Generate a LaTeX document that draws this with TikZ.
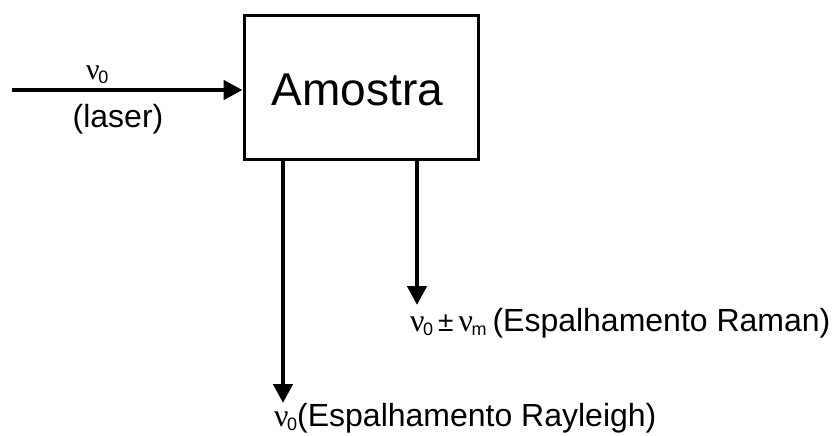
\documentclass[tikz,border=0pt]{standalone}
\usepackage{fontspec}
\setmainfont{Liberation Sans}
\newfontfamily\greekfont{Liberation Serif}
\usetikzlibrary{arrows.meta}
\newcommand{\nusym}[1]{{\greekfont ν}\kern-1.5pt\raisebox{-4pt}{\fontsize{18}{20}\selectfont #1}}
\tikzset{
  arr/.style={line width=4.5pt, -{Triangle[length=19pt,width=19pt]}},
  lbl/.style={inner sep=0pt, anchor=base west, font=\fontsize{32}{38}\selectfont},
  boxnode/.style={draw, line width=3pt, minimum width=234pt, minimum height=143pt, inner sep=0pt},
  boxtext/.style={inner sep=0pt, anchor=base, font=\fontsize{46}{54}\selectfont}
}
\begin{document}
\begin{tikzpicture}[x=1pt,y=-1pt]
\useasboundingbox (0,0) rectangle (840,436);
\node[boxnode] (amostra) at (361,87.5) {};
\node[boxtext] (amostratext) at (357.5,105) {Amostra};
\coordinate (src) at (12,90);
\coordinate (tipL) at (283,403);
\coordinate (tipR) at (417,305);
\draw[arr] (src) -- (src -| amostra.west);
\draw[arr] (amostra.south -| tipL) -- (tipL);
\draw[arr] (amostra.south -| tipR) -- (tipR);
\node[lbl, font=\fontsize{30}{34}\selectfont] (nulaser) at (86,79) {\nusym{0}};
\node[lbl, anchor=base] (laser) at (118,127) {(laser)};
\node[lbl] (raman) at (410,331) {\nusym{0}\hspace{5pt}{\fontsize{28}{32}\selectfont ±}\hspace{5pt}\nusym{m}\hspace{6pt}(Espalhamento Raman)};
\node[lbl] (rayleigh) at (274,426) {\nusym{0}(Espalhamento Rayleigh)};
\end{tikzpicture}
\end{document}
